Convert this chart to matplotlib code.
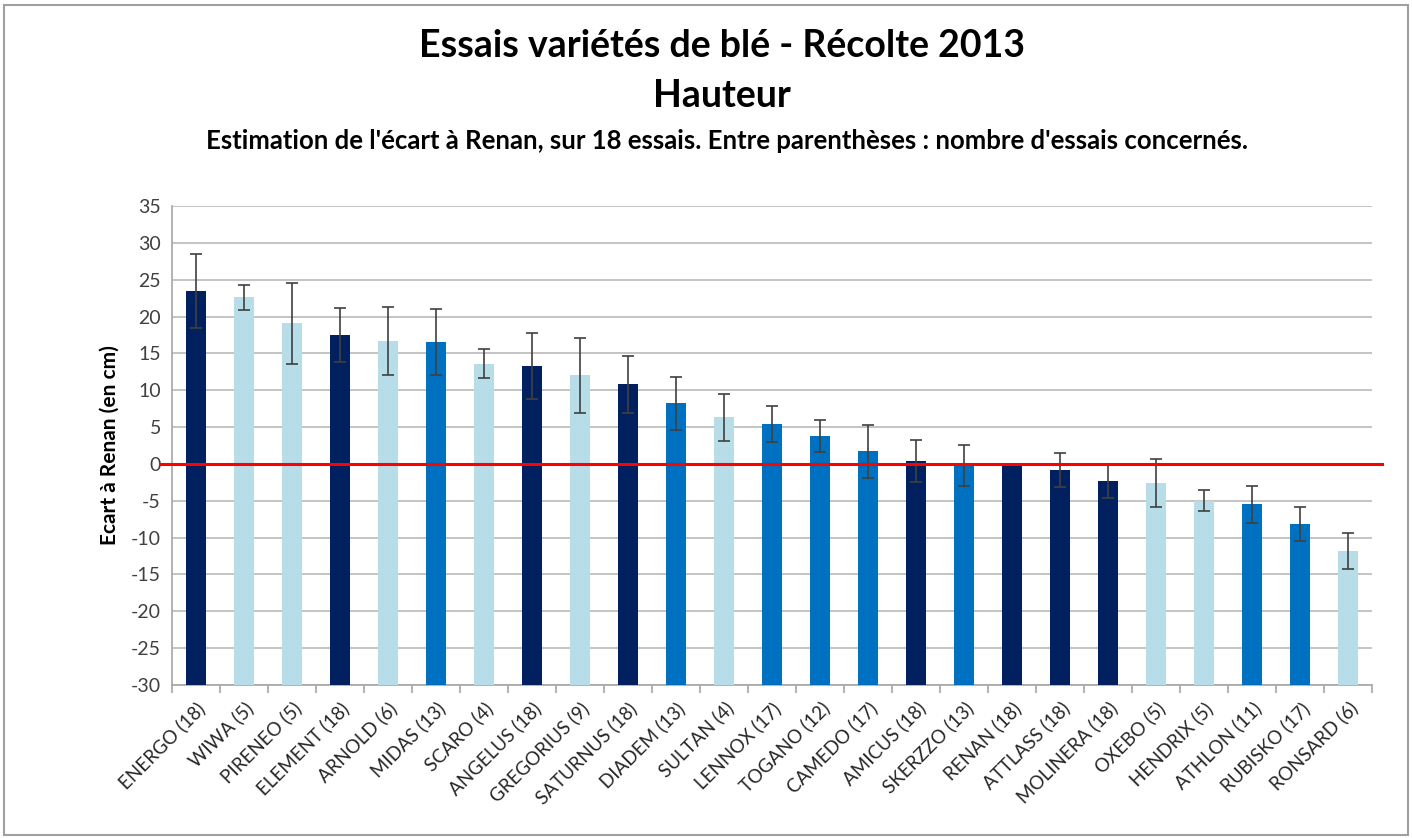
import matplotlib.pyplot as plt
import matplotlib.patches as mpatches
import numpy as np

plt.rcParams['font.family'] = ['Lato', 'DejaVu Sans']
plt.rcParams['axes.unicode_minus'] = False

varietes = ['ENERGO (18)', 'WIWA (5)', 'PIRENEO (5)', 'ELEMENT (18)', 'ARNOLD (6)',
            'MIDAS (13)', 'SCARO (4)', 'ANGELUS (18)', 'GREGORIUS (9)', 'SATURNUS (18)',
            'DIADEM (13)', 'SULTAN (4)', 'LENNOX (17)', 'TOGANO (12)', 'CAMEDO (17)',
            'AMICUS (18)', 'SKERZZO (13)', 'RENAN (18)', 'ATTLASS (18)', 'MOLINERA (18)',
            'OXEBO (5)', 'HENDRIX (5)', 'ATHLON (11)', 'RUBISKO (17)', 'RONSARD (6)']
ecart = [23.5, 22.6, 19.1, 17.5, 16.7, 16.5, 13.6, 13.3, 12.0, 10.8,
         8.2, 6.3, 5.4, 3.8, 1.7, 0.4, -0.2, 0.0, -0.8, -2.3,
         -2.6, -5.0, -5.5, -8.1, -11.8]
erreur = [5.0, 1.7, 5.5, 3.7, 4.6, 4.5, 2.0, 4.5, 5.1, 3.9,
          3.6, 3.2, 2.4, 2.2, 3.6, 2.8, 2.8, 0.0, 2.3, 2.3,
          3.2, 1.4, 2.5, 2.3, 2.4]
# groupe de couleur : f = fonce, m = moyen, c = clair
groupe = ['f', 'c', 'c', 'f', 'c', 'm', 'c', 'f', 'c', 'f',
          'm', 'c', 'm', 'm', 'm', 'f', 'm', 'f', 'f', 'f',
          'c', 'c', 'm', 'm', 'c']
couleurs = {'f': '#002060', 'm': '#0070C0', 'c': '#B7DDE8'}

ymin, ymax = -30, 35

fig = plt.figure(figsize=(14.12, 8.38), dpi=100)
ax = fig.add_axes([0.1218, 0.1826, 0.8499, 0.5716])

x = np.arange(len(varietes))
vals = np.array(ecart)
ax.bar(x, vals - ymin, bottom=ymin, width=0.4,
       color=[couleurs[g] for g in groupe], zorder=3)
ax.errorbar(x, vals, yerr=erreur, fmt='none', ecolor='#404040',
            elinewidth=1.2, capsize=4, capthick=1.2, zorder=4)

ax.axhline(0, color='#FF0000', lw=2.2, zorder=5, xmin=-0.01, xmax=1.008, clip_on=False)

ax.set_xlim(-0.5, len(varietes) - 0.5)
ax.set_ylim(ymin, ymax)
ax.set_yticks(np.arange(ymin, ymax + 1, 5))
ax.yaxis.grid(True, color='#BFBFBF', lw=1.3, zorder=0)
ax.tick_params(axis='y', length=0, labelsize=14, labelcolor='#404040', pad=8)

ax.set_xticks(x)
ax.set_xticklabels(varietes, rotation=45, ha='right', rotation_mode='anchor',
                   fontsize=13.5, color='#262626')
ax.tick_params(axis='x', length=0, pad=10)
ax.set_xticks(np.arange(-0.5, len(varietes), 1), minor=True)
ax.tick_params(axis='x', which='minor', length=6, color='#A6A6A6', width=1.2)

for s in ['top', 'right']:
    ax.spines[s].set_visible(False)
for s in ['left', 'bottom']:
    ax.spines[s].set_color('#A6A6A6')
    ax.spines[s].set_linewidth(1.2)

ax.set_ylabel("Ecart à Renan (en cm)", fontsize=15, fontweight='bold', labelpad=8)

fig.text(0.511, 0.945, "Essais variétés de blé - Récolte 2013", ha='center', va='center',
         fontsize=27, fontweight='bold')
fig.text(0.511, 0.886, "Hauteur", ha='center', va='center', fontsize=27, fontweight='bold')
fig.text(0.515, 0.832, "Estimation de l'écart à Renan, sur 18 essais. Entre parenthèses : nombre d'essais concernés.",
         ha='center', va='center', fontsize=18.5, fontweight='bold')

fig.patches.append(mpatches.Rectangle((0.003, 0.004), 0.994, 0.99, transform=fig.transFigure,
                                      fill=False, edgecolor='#A0A0A0', lw=1.5))

fig.savefig('out.png', dpi=100)
